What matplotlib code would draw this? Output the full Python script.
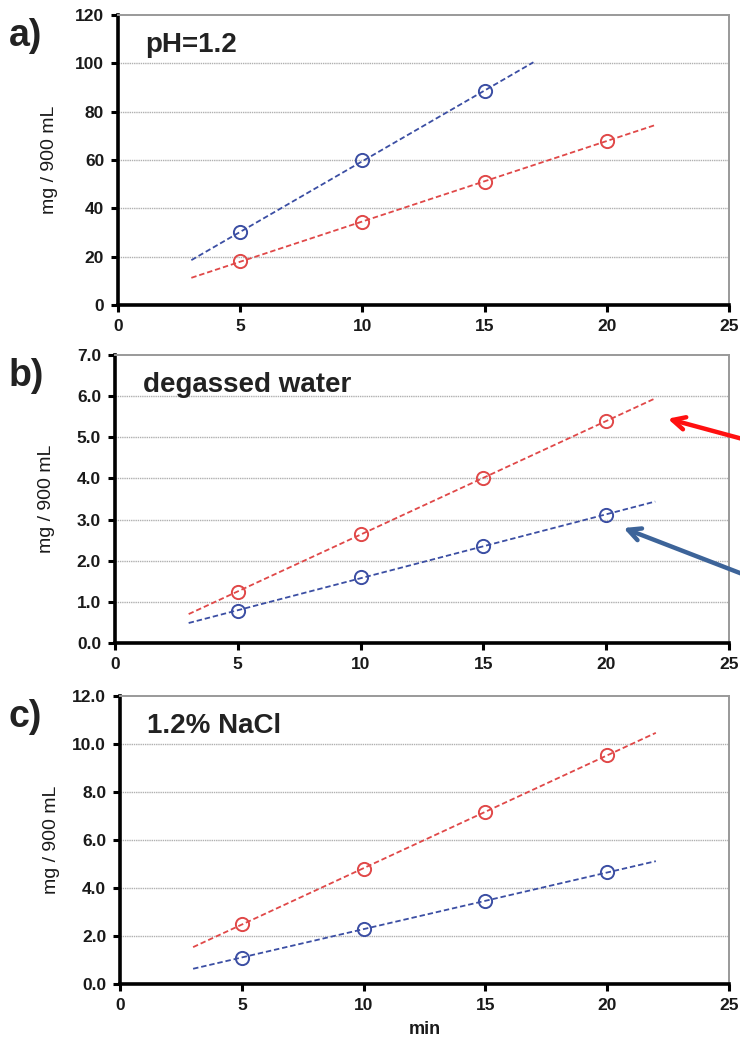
import matplotlib.pyplot as plt
import numpy as np

plt.rcParams['font.family'] = ['Liberation Sans', 'DejaVu Sans']

# sampling times (min)
times = [5, 10, 15, 20]

# a) pH=1.2
a_blue = [30.0, 60.0, 88.5]
a_red = [18.0, 34.5, 51.0, 68.0]
# b) degassed water
b_red = [1.25, 2.65, 4.0, 5.4]
b_blue = [0.78, 1.6, 2.35, 3.12]
# c) 1.2% NaCl
c_red = [2.5, 4.8, 7.15, 9.55]
c_blue = [1.1, 2.3, 3.45, 4.65]

panels = [
    dict(tag='a)', title='pH=1.2', ymax=120, ystep=20, fmt='{:.0f}',
         series=[(a_blue, '#3b4ea3'), (a_red, '#e04848')],
         box=[0.1595, 0.7076, 0.8255, 0.278]),
    dict(tag='b)', title='degassed water', ymax=7, ystep=1, fmt='{:.1f}',
         series=[(b_red, '#e04848'), (b_blue, '#3b4ea3')],
         box=[0.1554, 0.3835, 0.8296, 0.2761]),
    dict(tag='c)', title='1.2% NaCl', ymax=12, ystep=2, fmt='{:.1f}',
         series=[(c_red, '#e04848'), (c_blue, '#3b4ea3')],
         box=[0.1622, 0.0566, 0.8228, 0.2761]),
]

fig = plt.figure(figsize=(7.4, 10.43), dpi=100)

axes = []
for p in panels:
    ax = fig.add_axes(p['box'])
    axes.append(ax)
    for vals, col in p['series']:
        x = np.array(times[:len(vals)], dtype=float)
        y = np.array(vals)
        k, b = np.polyfit(x, y, 1)
        xl = np.array([x[0] - 2, x[-1] + 2])
        ax.plot(xl, k * xl + b, ls=(0, (3, 1.6)), lw=1.3, color=col, zorder=3)
        ax.plot(x, y, 'o', ms=9.5, mfc='none', mec=col, mew=1.4, zorder=4)

    ax.set_xlim(0, 25)
    ax.set_ylim(0, p['ymax'])
    ax.set_xticks(range(0, 26, 5))
    yt = np.arange(0, p['ymax'] + p['ystep'] / 2, p['ystep'])
    ax.set_yticks(yt)
    ax.set_yticklabels([p['fmt'].format(v) for v in yt])
    for v in yt[1:-1]:
        ax.axhline(v, color='#b0b0b0', lw=1.0, ls=(0, (1, 0.6)), zorder=1)

    for s in ['left', 'bottom']:
        ax.spines[s].set_linewidth(2.6)
        ax.spines[s].set_color('black')
    for s in ['top', 'right']:
        ax.spines[s].set_linewidth(1.4)
        ax.spines[s].set_color('#999999')
    ax.tick_params(direction='out', length=5, width=2.2, labelsize=12.5,
                   pad=5, colors='black', labelcolor='#1a1a1a')
    for lab in ax.get_xticklabels() + ax.get_yticklabels():
        lab.set_fontweight('bold')

    ax.set_ylabel('mg / 900 mL', fontsize=14, color='#1a1a1a')
    ax.yaxis.set_label_coords(-0.098, 0.5)
    ax.text(0.045, 0.895, p['title'], transform=ax.transAxes, fontsize=20,
            fontweight='bold', color='#222222', va='center', ha='left')
    fig.text(0.012, p['box'][1] + p['box'][3] - 0.02, p['tag'], fontsize=27,
             fontweight='bold', color='#222222', va='center', ha='left')

axes[2].set_xlabel('min', fontsize=13, fontweight='bold', labelpad=6,
                   color='#1a1a1a')

# arrows pointing at the trend lines in panel b
axes[1].annotate('', xy=(22.4, 5.47), xytext=(25.8, 4.92), annotation_clip=False,
                 arrowprops=dict(arrowstyle='->,head_length=0.9,head_width=0.45',
                                 color='#ff1010', lw=3.2))
axes[1].annotate('', xy=(20.6, 2.82), xytext=(25.8, 1.62), annotation_clip=False,
                 arrowprops=dict(arrowstyle='->,head_length=0.9,head_width=0.45',
                                 color='#3d6499', lw=3.2))

fig.savefig('out.png', dpi=100)
